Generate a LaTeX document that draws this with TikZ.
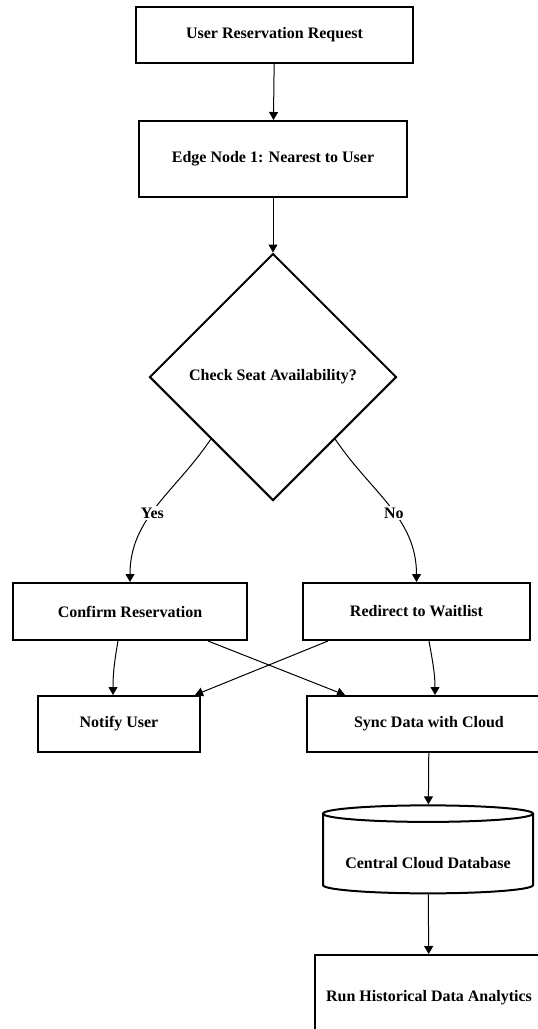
\documentclass[tikz,border=0pt]{standalone}
\usepackage{fontspec}
\setmainfont{Liberation Serif}
\usetikzlibrary{shapes.geometric,arrows.meta}

\tikzset{
  box/.style={draw, line width=2pt, rectangle, inner sep=0pt, font=\fontsize{16}{19}\selectfont\bfseries},
  decision/.style={draw, line width=2pt, diamond, aspect=1, inner sep=0pt, minimum width=247pt, minimum height=247pt, font=\fontsize{16}{19}\selectfont\bfseries},
  store/.style={draw, line width=2pt, cylinder, shape border rotate=90, aspect=0.1, inner sep=0pt, font=\fontsize{16}{19}\selectfont\bfseries},
  link/.style={line width=1pt, -{Triangle[length=8pt,width=9pt]}},
  tag/.style={fill=white, inner sep=2pt, font=\fontsize{16}{19}\selectfont\bfseries}
}

\begin{document}
\begin{tikzpicture}[x=1pt, y=1pt]
    \useasboundingbox (0,0) rectangle (538,-1029);
    \node [box, minimum width=277pt, minimum height=56pt] (req) at (274.5,-35) {User Reservation Request};
    \node [box, minimum width=268pt, minimum height=76pt] (edge) at (273,-159) {Edge Node 1: Nearest to User};
    \node [decision] (check) at (273,-377) {Check Seat Availability?};
    \node [box, minimum width=234pt, minimum height=57pt] (confirm) at (130,-611.5) {Confirm Reservation};
    \node [box, minimum width=227pt, minimum height=57pt] (redirect) at (416.5,-611.5) {Redirect to Waitlist};
    \node [box, minimum width=162pt, minimum height=56pt] (notify) at (119,-724) {Notify User};
    \node [box, minimum width=244pt, minimum height=56pt] (sync) at (429,-724) {Sync Data with Cloud};
    \node [store, minimum width=210pt, minimum height=88pt] (db) at (428,-854) {\raisebox{-14pt}[0pt][0pt]{Central Cloud Database}};
    \node [box, minimum width=228pt, minimum height=86pt] (run) at (429,-998) {Run Historical Data Analytics};
    \draw [link] (req) -- (edge);
    \draw [link] (edge) -- (check);
    \draw [link] (check.south west) to [out=236, in=90] node [tag, pos=0.55] {Yes} (confirm.north);
    \draw [link] (check.south east) to [out=-56, in=90] node [tag, pos=0.55] {No} (redirect.north);
    \draw [link] ([xshift=-12pt]confirm.south) to [out=260, in=90] ([xshift=-6pt]notify.north);
    \draw [link] ([xshift=78pt]confirm.south) -- ([xshift=-84pt]sync.north);
    \draw [link] ([xshift=-88.5pt]redirect.south) -- ([xshift=76pt]notify.north);
    \draw [link] ([xshift=12.5pt]redirect.south) to [out=280, in=90] ([xshift=6pt]sync.north);
    \draw [link] (sync) -- (db);
    \draw [link] (db) -- (run);
\end{tikzpicture}
\end{document}
